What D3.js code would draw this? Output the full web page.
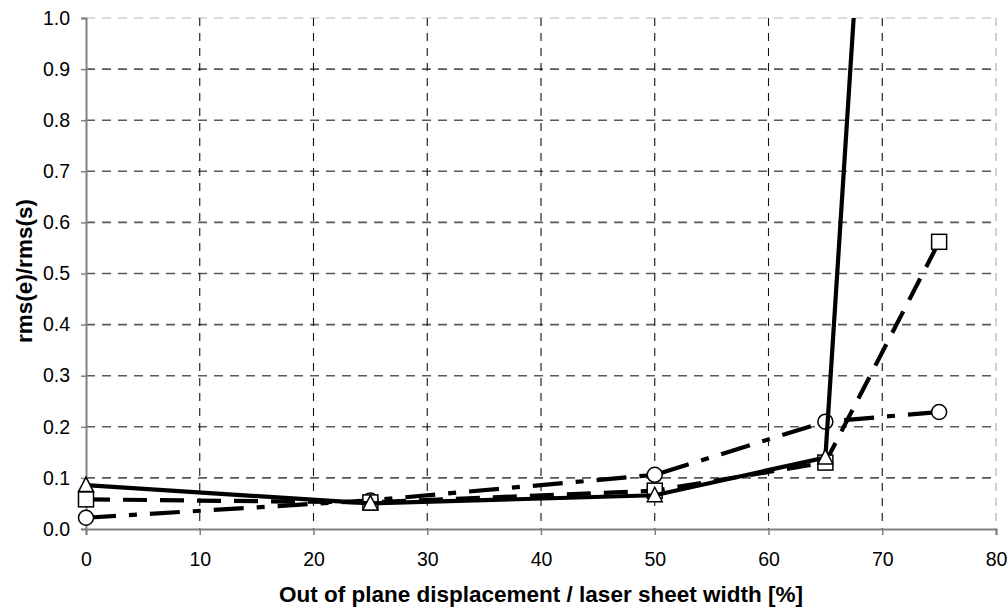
<!DOCTYPE html>
<html>
<head>
<meta charset="utf-8">
<script src="https://cdn.jsdelivr.net/npm/d3@7"></script>
<style>
  html, body { margin: 0; padding: 0; background: #fff; }
  svg { display: block; font-family: "Liberation Sans", Arial, sans-serif; }
</style>
</head>
<body>
<svg id="chart" width="1008" height="609"></svg>
<script>
// Out-of-plane displacement (% of laser sheet width)
const displacement = [0, 25, 50, 65, 75];
// rms(e)/rms(s) for each processing variant
const seriesTriangle = [0.086, 0.050, 0.066, 0.140, 3.6];
const seriesSquare   = [0.058, 0.052, 0.075, 0.130, 0.562];
const seriesCircle   = [0.022, 0.056, 0.106, 0.210, 0.229];
const xTicks = [0, 10, 20, 30, 40, 50, 60, 70, 80];
const yTicks = [0.0, 0.1, 0.2, 0.3, 0.4, 0.5, 0.6, 0.7, 0.8, 0.9, 1.0];

const svg = d3.select("#chart");
const plotLeft = 86, plotRight = 996, plotTop = 18, plotBottom = 529;

const x = d3.scaleLinear().domain([0, 80]).range([plotLeft, plotRight]);
const y = d3.scaleLinear().domain([0, 1]).range([plotBottom, plotTop]);

// dashed grid; the outer top/right lines are paler
const grid = svg.append("g");
grid.selectAll("line.h").data(yTicks.filter(d => d > 0)).enter().append("line")
  .attr("x1", plotLeft).attr("x2", plotRight)
  .attr("y1", d => y(d)).attr("y2", d => y(d))
  .attr("stroke", d => d === 1 ? "#d0d0d0" : "#5a5a5a")
  .attr("stroke-width", 1.6)
  .attr("stroke-dasharray", "9,7");
grid.selectAll("line.v").data(xTicks.filter(d => d > 0)).enter().append("line")
  .attr("x1", d => x(d)).attr("x2", d => x(d))
  .attr("y1", plotTop).attr("y2", plotBottom)
  .attr("stroke", d => d === 80 ? "#d0d0d0" : "#111")
  .attr("stroke-width", d => d === 80 ? 2 : 1.1)
  .attr("stroke-dasharray", "8,7");

// axes
const xAxis = svg.append("g").attr("transform", `translate(0,${plotBottom})`)
  .call(d3.axisBottom(x).tickValues(xTicks).tickFormat(d3.format("d")).tickSize(6).tickPadding(17));
const yAxis = svg.append("g").attr("transform", `translate(${plotLeft},0)`)
  .call(d3.axisLeft(y).tickValues(yTicks).tickFormat(d3.format(".1f")).tickSize(5).tickPadding(11));
[xAxis, yAxis].forEach(a => {
  a.select(".domain").attr("stroke", "#808080").attr("stroke-width", 2);
  a.selectAll(".tick line").attr("stroke", "#808080").attr("stroke-width", 1.5);
  a.selectAll(".tick text").attr("fill", "#000").style("font-size", "19.5px")
    .style("font-family", "'Liberation Sans', Arial, sans-serif");
});

// titles
svg.append("text").attr("x", (plotLeft + plotRight) / 2).attr("y", 602)
  .attr("text-anchor", "middle").attr("font-weight", "bold").attr("font-size", "22.5px")
  .text("Out of plane displacement / laser sheet width [%]");
svg.append("text").attr("transform", "translate(32,271) rotate(-90)")
  .attr("text-anchor", "middle").attr("font-weight", "bold").attr("font-size", "22.5px")
  .text("rms(e)/rms(s)");

svg.append("clipPath").attr("id", "plotclip").append("rect")
  .attr("x", plotLeft - 20).attr("y", plotTop).attr("width", plotRight - plotLeft + 40).attr("height", plotBottom - plotTop + 20);

const plot = svg.append("g").attr("clip-path", "url(#plotclip)");
const line = d3.line().x((d, i) => x(displacement[i])).y(d => y(d));

function drawSeries(values, dash, marker) {
  const g = plot.append("g");
  g.append("path").datum(values).attr("d", line)
    .attr("fill", "none").attr("stroke", "#000").attr("stroke-width", 4.2)
    .attr("stroke-dasharray", dash);
  const pts = values.map((v, i) => [x(displacement[i]), y(v)]).filter(p => p[1] >= plotTop);
  if (marker === "circle") {
    g.selectAll("circle").data(pts).enter().append("circle")
      .attr("cx", d => d[0]).attr("cy", d => d[1]).attr("r", 7.5)
      .attr("fill", "#fff").attr("stroke", "#000").attr("stroke-width", 1.5);
  } else if (marker === "square") {
    g.selectAll("rect").data(pts).enter().append("rect")
      .attr("x", d => d[0] - 7.5).attr("y", d => d[1] - 7.5).attr("width", 15).attr("height", 15)
      .attr("fill", "#fff").attr("stroke", "#000").attr("stroke-width", 1.5);
  } else {
    g.selectAll("path.m").data(pts).enter().append("path")
      .attr("d", d => `M${d[0]},${d[1] - 8} L${d[0] + 7.5},${d[1] + 6.5} L${d[0] - 7.5},${d[1] + 6.5} Z`)
      .attr("fill", "#fff").attr("stroke", "#000").attr("stroke-width", 1.5);
  }
}

drawSeries(seriesCircle, "30,13,8,13", "circle");
drawSeries(seriesSquare, "24,13", "square");
drawSeries(seriesTriangle, null, "triangle");
</script>
</body>
</html>
